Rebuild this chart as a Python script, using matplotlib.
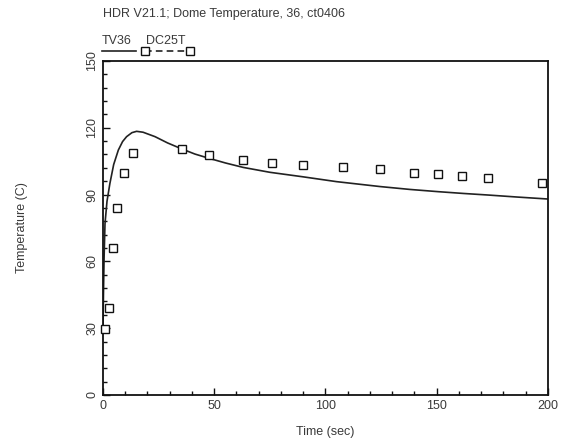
import matplotlib
matplotlib.use('Agg')
import matplotlib.pyplot as plt
from matplotlib.lines import Line2D
from matplotlib.ticker import MultipleLocator

# TV36 calculated curve
t_calc = [0.0, 0.2, 0.5, 0.9, 1.8, 3.1, 4.8, 6.9, 8.8, 10.6, 13.0, 15.1, 18.0, 23.4,
          29.0, 35.4, 41.3, 47.6, 55.0, 63.0, 75.0, 89.7, 105.0, 124.5, 138.0,
          150.7, 162.0, 173.0, 186.0, 200.0]
T_calc = [28.0, 45.0, 62.0, 77.0, 87.0, 95.0, 103.5, 110.0, 113.8, 116.0, 117.8, 118.4,
          118.0, 116.0, 113.2, 110.5, 108.2, 106.3, 104.2, 102.2, 100.0, 98.0, 95.8,
          93.6, 92.3, 91.3, 90.5, 89.8, 88.9, 88.0]

# DC25T measured data
t_meas = [0.9, 2.7, 4.3, 6.5, 9.3, 13.6, 35.5, 47.6, 63.0, 76.0, 89.7, 107.8,
          124.5, 140.0, 150.7, 161.3, 173.0, 197.2]
T_meas = [29.6, 39.0, 66.0, 84.0, 99.6, 108.8, 110.5, 107.8, 105.3, 104.0, 103.3,
          102.4, 101.5, 99.9, 99.3, 98.4, 97.4, 95.2]

txt_color = '#3a3a3a'
plt.rcParams['font.family'] = ['Liberation Sans', 'DejaVu Sans']

fig = plt.figure(figsize=(5.65, 4.44), dpi=100)
ax = fig.add_axes([0.1823, 0.1104, 0.7876, 0.7523])

ax.plot(t_calc, T_calc, color='#222222', lw=1.2)
ax.plot(t_meas, T_meas, ls='none', marker='s', ms=5.5, mfc='white',
        mec='#111111', mew=1.0, clip_on=False, zorder=3)

ax.set_xlim(0, 200)
ax.set_ylim(0, 150)
ax.xaxis.set_major_locator(MultipleLocator(50))
ax.xaxis.set_minor_locator(MultipleLocator(10))
ax.yaxis.set_major_locator(MultipleLocator(30))
ax.yaxis.set_minor_locator(MultipleLocator(6))
ax.tick_params(which='both', direction='in', top=False, right=False,
               labelsize=9, labelcolor=txt_color, color='#111111')
ax.tick_params(which='major', length=5, width=1)
ax.tick_params(which='minor', length=3, width=1)
for lab in ax.get_yticklabels():
    lab.set_rotation(90)
    lab.set_va('center')
for s in ax.spines.values():
    s.set_linewidth(1.3)
    s.set_color('#111111')

ax.set_xlabel('Time (sec)', fontsize=9, color=txt_color, labelpad=10)
ax.set_ylabel('Temperature (C)', fontsize=9, color=txt_color, labelpad=42)

fig.text(103 / 565, 1 - 14 / 444, 'HDR V21.1; Dome Temperature, 36, ct0406',
         fontsize=9, color=txt_color, va='center', ha='left')

# legend above the frame
fig.text(102 / 565, 1 - 41 / 444, 'TV36', fontsize=9, color=txt_color,
         va='center', ha='left')
fig.text(146 / 565, 1 - 41 / 444, 'DC25T', fontsize=9, color=txt_color,
         va='center', ha='left')
ly = 1 - 51.5 / 444
fig.add_artist(Line2D([102 / 565, 136 / 565], [ly, ly], color='#222222', lw=1.2))
fig.add_artist(Line2D([145 / 565, 190 / 565], [ly, ly], color='#222222', lw=1.2,
                      ls=(0, (4, 2.5)), marker='s', ms=5.5, mfc='white',
                      mec='#111111', mew=1.0))

fig.savefig('out.png', dpi=100)
